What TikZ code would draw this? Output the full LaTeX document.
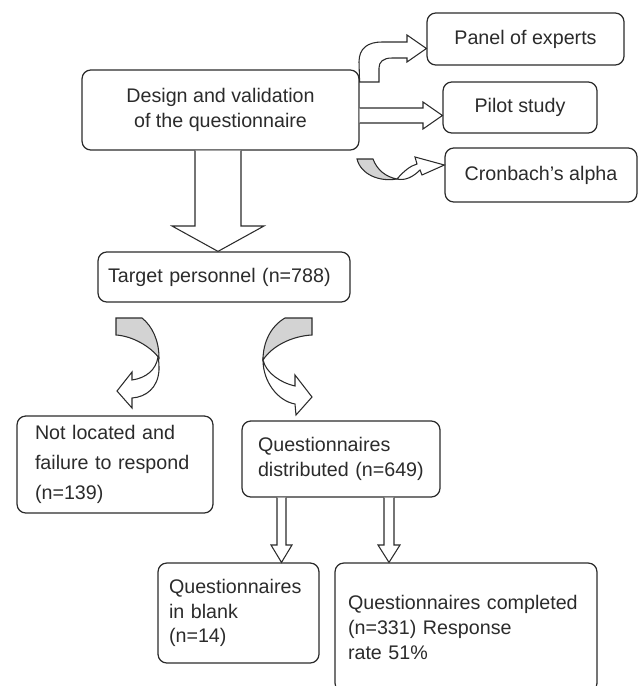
\documentclass[tikz,border=0pt]{standalone}
\usepackage{fontspec}
\setmainfont{Liberation Sans}
\usepackage{xcolor}
\definecolor{edge}{HTML}{2B2B2B}
\definecolor{backside}{HTML}{D3D3D3}

\begin{document}
\begin{tikzpicture}[
  x=0.02cm, y=-0.02cm,
  every node/.style={font={\fontsize{11.2}{14}\selectfont}, text=edge},
  box/.style  ={rectangle, draw=edge, line width=0.7pt, rounded corners=5pt,
                align=left},
  cbox/.style ={box, align=center},
  blk/.style  ={draw=edge, line width=0.6pt, fill=white, line join=miter},
  back/.style ={draw=edge, line width=0.6pt, fill=backside}
]
  \useasboundingbox (0,0) rectangle (638,686);

  \node[cbox, minimum width=5.54cm, minimum height=1.6cm]  (design) at (220.5,110) {Design and validation\\of the questionnaire};
  \node[cbox, minimum width=3.94cm, minimum height=1.04cm] (panel)  at (525.5,39)  {Panel of experts};
  \node[cbox, minimum width=3.08cm, minimum height=1.02cm] (pilot)  at (520,107.5) {Pilot study};
  \node[cbox, minimum width=3.84cm, minimum height=1.08cm] (alpha)  at (541,175)   {Cronbach’s alpha};

  \node[box, inner xsep=0.2cm, text width=4.64cm, minimum height=1.0cm]  (target) at (224,277) {Target personnel (n=788)};
  \node[box, inner xsep=0.36cm, text width=3.2cm, minimum height=1.94cm,
        font={\fontsize{11.2}{17}\selectfont}]                           (lost)   at (115,464.5) {Not located and\\failure to respond\\(n=139)};
  \node[box, inner xsep=0.32cm, text width=3.32cm, minimum height=1.52cm] (dist)   at (341,459)   {Questionnaires\\distributed (n=649)};
  \node[box, inner xsep=0.22cm, text width=2.78cm, minimum height=2.0cm]  (blank)  at (238.5,613) {Questionnaires\\in blank\\(n=14)};
  \node[box, inner xsep=0.26cm, text width=4.72cm, minimum height=2.58cm] (done)   at (466,627.5) {Questionnaires completed\\(n=331) Response\\rate 51\%};

  % block arrows out of the design box
  \draw[blk] (design.east |- 0,82) -- (359,62) .. controls (359,48) and (368,42) .. (382,42)
             -- (407,42) -- (407,35) -- (panel.west |- 0,48.5) -- (407,62) -- (407,58)
             -- (392,58) .. controls (383,58) and (379,62) .. (379,68) -- (379,82) -- cycle;
  \draw[blk] (design.east |- 0,108) -- (423,108) -- (423,102) -- (pilot.west |- 0,115.5)
             -- (423,129) -- (423,123) -- (design.east |- 0,123);
  \draw[back] (357,159) -- (373,159) .. controls (377,170) and (386,177) .. (397,179)
              .. controls (380,182) and (361,175) .. (357,159) -- cycle;
  \draw[blk] (397,179) .. controls (404,171) and (410,166) .. (417,164) -- (415,157)
             -- (alpha.west |- 0,165) -- (422,175) -- (420,170)
             .. controls (413,177) and (405,181) .. (397,179) -- cycle;
  \draw[blk] (195,0 |- design.south) -- (195,226) -- (172,226) -- (218,0 |- target.north)
             -- (264,226) -- (241,226) -- (241,0 |- design.south);

  % curved arrows below the target box
  \draw[back] (116,318) -- (142,318) .. controls (152,326) and (159,340) .. (159,358)
              .. controls (150,346) and (132,336) .. (116,335) -- cycle;
  \draw[blk] (158,357) .. controls (159,362) and (159,365) .. (159,370)
             .. controls (158,388) and (146,397) .. (132,398) -- (132,408) -- (117,391)
             -- (132,372) -- (132,380) .. controls (146,378) and (156,370) .. (158,357) -- cycle;
  \draw[back] (312,318) -- (285,318) .. controls (271,326) and (263,342) .. (263,360)
              .. controls (272,346) and (292,336) .. (312,335) -- cycle;
  \draw[blk] (263,360) .. controls (263,382) and (278,401) .. (295,404) -- (296,415)
             -- (312,397) -- (295,375) -- (295,386)
             .. controls (281,383) and (266,373) .. (263,360) -- cycle;

  % split of the distributed questionnaires
  \draw[blk] (277,0 |- dist.south) -- (277,545) -- (271,545) -- (281.5,0 |- blank.north)
             -- (292,545) -- (286,545) -- (286,0 |- dist.south);
  \draw[blk] (384,0 |- dist.south) -- (384,545) -- (378,545) -- (389,0 |- done.north)
             -- (400,545) -- (394,545) -- (394,0 |- dist.south);
\end{tikzpicture}
\end{document}
